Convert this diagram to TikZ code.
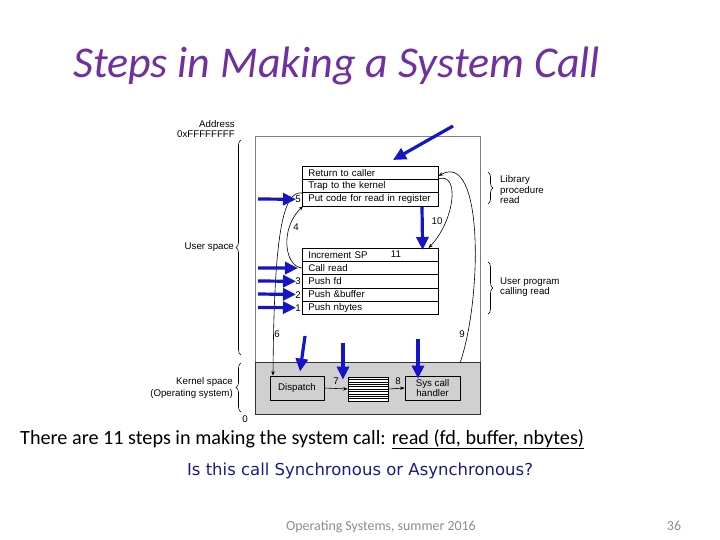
\documentclass[tikz,border=0pt]{standalone}
\usepackage{fontspec}
\setmainfont{Carlito}
\newfontfamily\diag{Liberation Sans}
\newfontfamily\qfont{DejaVu Sans}
\usetikzlibrary{arrows.meta,decorations.pathreplacing}
\definecolor{titlepurple}{HTML}{7030A0}
\definecolor{annblue}{HTML}{1414C8}
\definecolor{kgray}{HTML}{D0D0D0}
\definecolor{qblue}{HTML}{1A1A8C}
\definecolor{footgray}{HTML}{8C8C8C}
\begin{document}
\begin{tikzpicture}[x=1pt,y=-1pt,
  dfont/.style={font=\diag\fontsize{9.7}{10.5}\selectfont},
  rowbox/.style={dfont, draw=black, line width=0.6pt, fill=white, minimum width=136pt,
    minimum height=13.2pt, anchor=north west, inner sep=0pt, text width=130pt, align=left,
    execute at begin node={\hspace*{3pt}}},
  kbox/.style={dfont, draw=black, line width=0.8pt, fill=kgray, minimum height=24pt, inner sep=0pt, align=center},
  numlbl/.style={dfont, inner sep=0pt},
  sidelbl/.style={dfont, inner sep=0pt, align=right},
  steparrow/.style={line width=0.6pt, -{Stealth[length=4.5pt,width=3.5pt]}},
  bluearrow/.style={annblue, line width=3.2pt, -{Triangle[length=13pt,width=12pt]}},
  bracedeco/.style={decorate, decoration={brace, amplitude=5pt}, line width=0.6pt}
]
\useasboundingbox (0,0) rectangle (720,540);

% title
\node[anchor=base west, inner sep=0pt, text=titlepurple, font=\fontsize{44}{50}\selectfont\itshape] (title) at (73,78) {Steps in Making a System Call};

% frame
\draw[gray, line width=1pt] (255,137) rectangle (480,362);
\draw[draw=black!80, fill=kgray, line width=0.8pt] (255,362) rectangle (480,414);

% left labels
\node[sidelbl, anchor=east] (addr) at (235,124) {Address};
\node[sidelbl, anchor=east] (addrhi) at (235,134) {0xFFFFFFFF};
\node[sidelbl, anchor=east] (uspace) at (234,247) {User space};
\node[sidelbl, anchor=east] (kspace) at (233,382) {Kernel space};
\node[sidelbl, anchor=east] (opsys) at (233,394) {(Operating system)};
\node[numlbl] (zero) at (245,419) {0};

% braces
\draw[bracedeco] (241,355) -- (241,140);
\draw[bracedeco] (241,412) -- (241,363);
\draw[bracedeco] (488,172) -- (488,204);
\draw[bracedeco] (488,262) -- (488,314);

% right labels
\node[dfont, anchor=west, inner sep=0pt, align=left] (libtxt) at (500,190) {Library\\procedure\\read};
\node[dfont, anchor=west, inner sep=0pt, align=left] (usertxt) at (500,287) {User program\\calling read};

% library rows
\node[rowbox] (ret) at (302,166) {Return to caller};
\node[rowbox] (trap) at (302,179.2) {Trap to the kernel};
\node[rowbox] (put) at (302,192.4) {Put code for read in register};

% user program rows
\node[rowbox] (incsp) at (302,248) {Increment SP};
\node[rowbox] (callread) at (302,261.2) {Call read};
\node[rowbox] (pushfd) at (302,274.4) {Push fd};
\node[rowbox] (pushbuf) at (302,287.6) {Push \&buffer};
\node[rowbox] (pushnb) at (302,300.8) {Push nbytes};

% kernel boxes
\node[kbox, minimum width=54pt] (dispatch) at (297,388) {Dispatch};
\node[draw=black, line width=0.7pt, fill=white, minimum width=40pt, minimum height=24pt, inner sep=0pt] (tbl) at (368,389) {};
\foreach \i in {1,...,9} { \draw[line width=0.6pt] (348,377+\i*2.4) -- (388,377+\i*2.4); }
\node[kbox, minimum width=55pt] (syscall) at (432.5,388) {Sys call\\handler};

% step numbers
\node[numlbl] (n1) at (298,308) {1};
\node[numlbl] (n2) at (298,295) {2};
\node[numlbl] (n3) at (298,281) {3};
\node[numlbl] (n4) at (296,227) {4};
\node[numlbl] (n5) at (298,199) {5};
\node[numlbl] (n6) at (277,334) {6};
\node[numlbl] (n7) at (336,381) {7};
\node[numlbl] (n8) at (398,381) {8};
\node[numlbl] (n9) at (462,334) {9};
\node[numlbl] (n10) at (437,221) {10};
\node[numlbl] (n11) at (396,254) {11};

% step connectors
\draw[steparrow] (callread.west) .. controls (284,266) and (280,228) .. ([xshift=1pt]put.south west);
\draw[steparrow] (trap.south west) .. controls (282,190) and (274,240) .. ([xshift=-24pt]dispatch.north);
\draw[steparrow] (dispatch.east) -- (tbl.west);
\draw[steparrow] (tbl.east) -- (syscall.west);
\coordinate (k9) at (460,363);
\draw[steparrow] (k9) .. controls (482,300) and (484,150) .. ([yshift=-3pt]ret.east);
\draw[steparrow] ([yshift=-6pt]ret.east) .. controls (460,172) and (455,220) .. ([xshift=-10pt]incsp.north east);

% blue annotation arrows
\coordinate (b1) at (453,126);
\coordinate (b1h) at (393,160);
\draw[bluearrow] (b1) -- (b1h);
\coordinate (b5) at (258,199);
\draw[bluearrow] (b5) -- ([xshift=-6pt]put.west);
\coordinate (b10) at (422,207);
\draw[bluearrow] (b10) -- ([xshift=-16pt,yshift=-2pt]incsp.north east);
\coordinate (bc) at (258,268);
\draw[bluearrow] (bc) -- ([xshift=-4pt]callread.west);
\coordinate (bfd) at (258,281);
\draw[bluearrow] (bfd) -- ([xshift=-6pt]pushfd.west);
\coordinate (bbuf) at (258,294);
\draw[bluearrow] (bbuf) -- ([xshift=-6pt]pushbuf.west);
\coordinate (bnb) at (258,307.5);
\draw[bluearrow] (bnb) -- ([xshift=-6pt]pushnb.west);
\coordinate (bd) at (305,336);
\draw[bluearrow] (bd) -- ([xshift=3pt,yshift=4pt]dispatch.north);
\coordinate (bt) at (343,343);
\draw[bluearrow] (bt) -- ([xshift=-25pt,yshift=-3pt]tbl.north);
\coordinate (bs) at (418,339);
\draw[bluearrow] (bs) -- ([xshift=-14.5pt,yshift=-3pt]syscall.north);

% bottom texts
\node[anchor=base west, inner sep=0pt, font=\fontsize{20.2}{24}\selectfont] (steps) at (20,444) {There are 11 steps in making the system call: \underline{read (fd, buffer, nbytes)}};
\node[anchor=base, inner sep=0pt, text=qblue, font=\qfont\fontsize{16.5}{19}\selectfont] (question) at (360,475) {Is this call Synchronous or Asynchronous?};
\node[anchor=base, inner sep=0pt, text=footgray, font=\fontsize{13.9}{16}\selectfont] (footer) at (381,530) {Operating Systems, summer 2016};
\node[anchor=base, inner sep=0pt, text=footgray, font=\fontsize{13.9}{16}\selectfont] (pagenum) at (674,530) {36};
\end{tikzpicture}
\end{document}
